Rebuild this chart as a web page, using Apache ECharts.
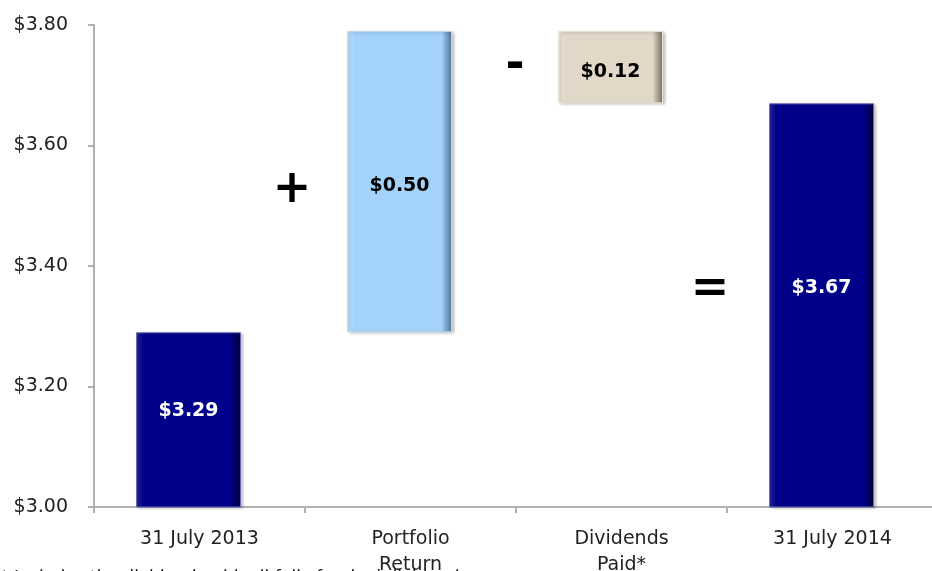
<!DOCTYPE html>
<html>
<head>
<meta charset="utf-8">
<script src="https://cdn.jsdelivr.net/npm/echarts@6/dist/echarts.min.js"></script>
<style>
  html, body { margin: 0; padding: 0; background: #fff; }
  #main { width: 932px; height: 571px; }
</style>
</head>
<body>
<div id="main"></div>
<script>
// chart data
var categories = ['31 July 2013', 'Portfolio\nReturn', 'Dividends\nPaid*', '31 July 2014'];
var stepValues = [3.29, 0.50, 0.12, 3.67];       // height of each visible bar
var baseValues = [0, 3.29, 3.67, 0];             // invisible offset for floating bars
var yTicks = [3.00, 3.20, 3.40, 3.60, 3.80];

var FONT = 'DejaVu Sans';

function bevel(light, base, dark) {
    return {
        type: 'linear', x: 0, y: 0, x2: 1, y2: 0,
        colorStops: [
            { offset: 0, color: light },
            { offset: 0.07, color: base },
            { offset: 0.9, color: base },
            { offset: 1, color: dark }
        ]
    };
}

// per-bar look (fill, edge, label colour, label nudge)
var styles = [
    { fill: bevel('#2a2aa0', '#000088', '#00003a'), border: '#6a6ab8', text: '#fff', dy: -9 },
    { fill: bevel('#c4e6ff', '#a3d3fb', '#4d6f8e'), border: '#b8d8f0', text: '#000', dy: 4 },
    { fill: bevel('#f0eadf', '#e2d8c8', '#776c5c'), border: '#ece4d6', text: '#000', dy: 5 },
    { fill: bevel('#2a2aa0', '#000088', '#00003a'), border: '#6a6ab8', text: '#fff', dy: -17 }
];

var myChart = echarts.init(document.getElementById('main'));

var option = {
    animation: false,
    grid: [
        { left: 94, top: 25, width: 844, height: 482, containLabel: false, outerBoundsMode: 'none' },
        { left: 83, top: 25, width: 844, height: 482, containLabel: false, outerBoundsMode: 'none' }
    ],
    xAxis: [{
        gridIndex: 0,
        type: 'category',
        data: categories,
        axisLine: { lineStyle: { color: '#b0b0b0', width: 2 } },
        axisTick: { show: true, length: 6, lineStyle: { color: '#b0b0b0', width: 2 } },
        axisLabel: { color: '#222', fontSize: 19, fontFamily: FONT, margin: 19, lineHeight: 26 }
    }, {
        gridIndex: 1,
        type: 'category',
        data: categories,
        show: false
    }],
    yAxis: [{
        gridIndex: 0,
        type: 'value',
        min: yTicks[0],
        max: yTicks[yTicks.length - 1],
        interval: 0.2,
        splitLine: { show: false },
        axisLine: { show: true, lineStyle: { color: '#b0b0b0', width: 2 } },
        axisTick: { show: true, length: 6, lineStyle: { color: '#b0b0b0', width: 2 } },
        axisLabel: {
            color: '#222', fontSize: 19, fontFamily: FONT, margin: 26,
            formatter: function (v) { return '$' + v.toFixed(2); }
        }
    }, {
        gridIndex: 1,
        type: 'value',
        min: yTicks[0],
        max: yTicks[yTicks.length - 1],
        interval: 0.2,
        show: false
    }],
    series: [{
        type: 'bar',
        xAxisIndex: 1,
        yAxisIndex: 1,
        stack: 'w',
        barWidth: 105,
        silent: true,
        itemStyle: { color: 'transparent' },
        data: baseValues
    }, {
        type: 'bar',
        xAxisIndex: 1,
        yAxisIndex: 1,
        stack: 'w',
        barWidth: 105,
        data: stepValues.map(function (v, i) {
            return {
                value: v,
                itemStyle: {
                    color: styles[i].fill,
                    borderColor: styles[i].border,
                    borderWidth: 1,
                    shadowColor: 'rgba(0,0,0,0.25)',
                    shadowBlur: 3,
                    shadowOffsetX: 2,
                    shadowOffsetY: 1
                },
                label: { color: styles[i].text, offset: [0, styles[i].dy] }
            };
        }),
        label: {
            show: true,
            position: 'inside',
            fontSize: 19,
            fontWeight: 'bold',
            fontFamily: FONT,
            formatter: function (p) { return '$' + p.value.toFixed(2); }
        }
    }],
    graphic: [
        { type: 'text', x: 292, y: 190, style: { text: '+', font: 'bold 46px ' + FONT, fill: '#000', align: 'center', verticalAlign: 'middle' } },
        { type: 'text', x: 515, y: 66, style: { text: '-', font: 'bold 46px ' + FONT, fill: '#000', align: 'center', verticalAlign: 'middle' } },
        { type: 'text', x: 710, y: 290, style: { text: '=', font: 'bold 46px ' + FONT, fill: '#000', align: 'center', verticalAlign: 'middle' } },
        {
            type: 'group', x: 0, y: 0,
            children: [{
                type: 'text', x: 0, y: 570,
                style: { text: '* Includes the dividend paid, all fully franked dividends', font: '17px ' + FONT, fill: '#222', verticalAlign: 'top' }
            }]
        }
    ]
};
myChart.setOption(option);
</script>
</body>
</html>
